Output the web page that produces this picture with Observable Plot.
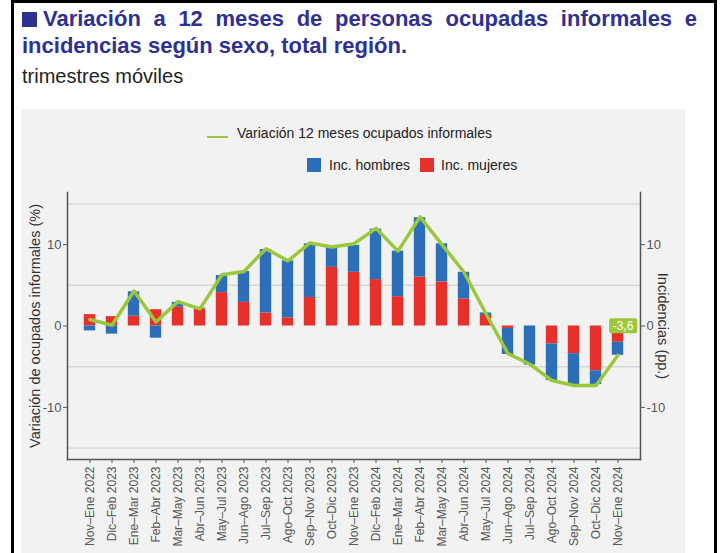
<!DOCTYPE html>
<html><head><meta charset="utf-8">
<script src="https://cdn.jsdelivr.net/npm/d3@7"></script>
<script src="https://cdn.jsdelivr.net/npm/@observablehq/plot@0.6"></script>
<style>
body{margin:0;background:#fff;width:723px;height:553px;overflow:hidden;position:relative;font-family:"Liberation Sans",Arial,sans-serif;}
#border{position:absolute;left:11px;top:0;width:700px;height:600px;border:3px solid #000;border-bottom:none;}
#title{position:absolute;left:22px;top:5px;width:675px;font-weight:bold;font-size:22px;line-height:27px;color:#2e3192;text-align:justify;text-align-last:left;}
.sq{display:inline-block;width:15px;height:15px;background:#2e3192;margin-right:6px;vertical-align:-1px}
#subtitle{position:absolute;left:22px;top:65px;font-size:20px;color:#222;}
#panel{position:absolute;left:21px;top:109px;width:664px;height:444px;background:#f2f2f2;}
.lg{position:absolute;font-size:14px;color:#222;line-height:16px;white-space:nowrap}
.sw{position:absolute;width:14px;height:14px}
#chart{position:absolute;left:0;top:76px;}
</style></head>
<body>
<div id="border"></div>
<div id="title"><span class="sq"></span>Variación a 12 meses de personas ocupadas informales e incidencias según sexo, total región.</div>
<div id="subtitle">trimestres móviles</div>
<div id="panel">
  <div id="legend">
    <div style="position:absolute;left:186px;top:27px;width:21px;height:2px;background:#9ac83c"></div>
    <div class="lg" style="left:216px;top:16px">Variación 12 meses ocupados informales</div>
    <div class="sw" style="left:286px;top:49px;background:#2d6eb9"></div>
    <div class="lg" style="left:308px;top:48px">Inc. hombres</div>
    <div class="sw" style="left:399px;top:49px;background:#e8302a"></div>
    <div class="lg" style="left:420px;top:48px">Inc. mujeres</div>
  </div>
  <div id="chart"></div>
</div>
<script>
const categories = ["Nov–Ene 2022","Dic–Feb 2023","Ene–Mar 2023","Feb–Abr 2023","Mar–May 2023","Abr–Jun 2023","May–Jul 2023","Jun–Ago 2023","Jul–Sep 2023","Ago–Oct 2023","Sep–Nov 2023","Oct–Dic 2023","Nov–Ene 2023","Dic–Feb 2024","Ene–Mar 2024","Feb–Abr 2024","Mar–May 2024","Abr–Jun 2024","May–Jul 2024","Jun–Ago 2024","Jul–Sep 2024","Ago–Oct 2024","Sep–Nov 2024","Oct–Dic 2024","Nov–Ene 2024"];
const incMujeres = [1.4,1.15,1.2,2.0,2.3,2.1,4.1,2.9,1.6,1.0,3.5,7.2,6.6,5.7,3.6,6.0,5.4,3.3,1.3,-0.3,0,-2.2,-3.4,-5.5,-2.0];
const incHombres = [-0.6,-1.0,3.0,-1.5,0.6,0.1,2.1,3.8,7.8,7.0,6.6,2.5,3.3,6.2,5.6,7.3,4.7,3.3,0.3,-3.2,-4.8,-4.5,-3.9,-1.7,-1.6];
const variacion = [0.8,0.1,4.3,0.5,3.0,2.1,6.3,6.7,9.5,8.0,10.2,9.7,10.1,12.0,9.2,13.4,10.0,6.6,1.5,-3.4,-4.7,-6.7,-7.3,-7.3,-3.6];
const yTicks = [-10,0,10];
const gridValues = [-15,-5,5,15];
const endLabel = "-3,6";

const series = ["Inc. mujeres","Inc. hombres"];
const barData = [];
categories.forEach((c,i)=>{
  barData.push({cat:c, serie:"Inc. mujeres", v:incMujeres[i]});
  barData.push({cat:c, serie:"Inc. hombres", v:incHombres[i]});
});
const lineData = categories.map((c,i)=>({cat:c, v:variacion[i]}));
const green = "#9ac83c";
const axisColor = "#555";
const fmt = d => String(d);

const plot = Plot.plot({
  width: 664, height: 368,
  marginTop: 7, marginBottom: 94, marginLeft: 46, marginRight: 45,
  style: {background:"transparent", fontFamily:"'Liberation Sans', Arial, sans-serif", overflow:"visible"},
  x: {type:"band", domain: categories, padding: 0.23},
  y: {domain: [-16.4, 16.4]},
  color: {domain: series, range: ["#e8302a","#2d6eb9"]},
  marks: [
    Plot.ruleY(gridValues, {stroke:"#d6d6d6", strokeWidth:1.4}),
    Plot.barY(barData, Plot.stackY({x:"cat", y:"v", z:"serie", fill:"serie", insetLeft:2.8, insetRight:2.8, order:series})),
    Plot.line(lineData, {x:"cat", y:"v", stroke:green, strokeWidth:3.5, strokeLinejoin:"round"}),
    Plot.frame({anchor:"left", stroke:axisColor, strokeWidth:1.5}),
    Plot.frame({anchor:"right", stroke:axisColor, strokeWidth:1.5}),
    Plot.frame({anchor:"bottom", stroke:axisColor, strokeWidth:1.5}),
    Plot.axisY({ticks:yTicks, tickFormat:fmt, tickSize:4, tickPadding:2, fontSize:13, stroke:axisColor, fill:"#555", label:null}),
    Plot.axisY({anchor:"right", ticks:yTicks, tickFormat:fmt, tickSize:4, tickPadding:2, fontSize:13, stroke:axisColor, fill:"#555", label:null}),
    Plot.axisX({tickRotate:-90, tickSize:4, tickPadding:3, fontSize:12, stroke:axisColor, fill:"#555", label:null}),
    Plot.text(["Variación de ocupados informales (%)"], {frameAnchor:"left", textAnchor:"middle", rotate:-90, dx:-32, fontSize:14.5, fill:"#333"}),
    Plot.text(["Incidencias (pp.)"], {frameAnchor:"right", textAnchor:"middle", rotate:90, dx:22, fontSize:14.5, fill:"#333"}),
    Plot.text([categories[categories.length-1]], {x:d=>d, y:()=>0, dx:5, text:()=>endLabel, fill:"white", fontSize:12})
  ]
});
document.getElementById("chart").appendChild(plot);
const t = Array.from(plot.querySelectorAll("text")).find(e => e.textContent === endLabel);
if (t) {
  const b = t.getBBox();
  const r = document.createElementNS("http://www.w3.org/2000/svg","rect");
  r.setAttribute("x", b.x-3.5); r.setAttribute("y", b.y-0.5);
  r.setAttribute("width", b.width+7); r.setAttribute("height", b.height+1);
  r.setAttribute("rx", 2); r.setAttribute("fill", green);
  const tr = t.getAttribute("transform");
  if (tr) r.setAttribute("transform", tr);
  t.parentNode.insertBefore(r, t);
}
</script>
</body></html>
